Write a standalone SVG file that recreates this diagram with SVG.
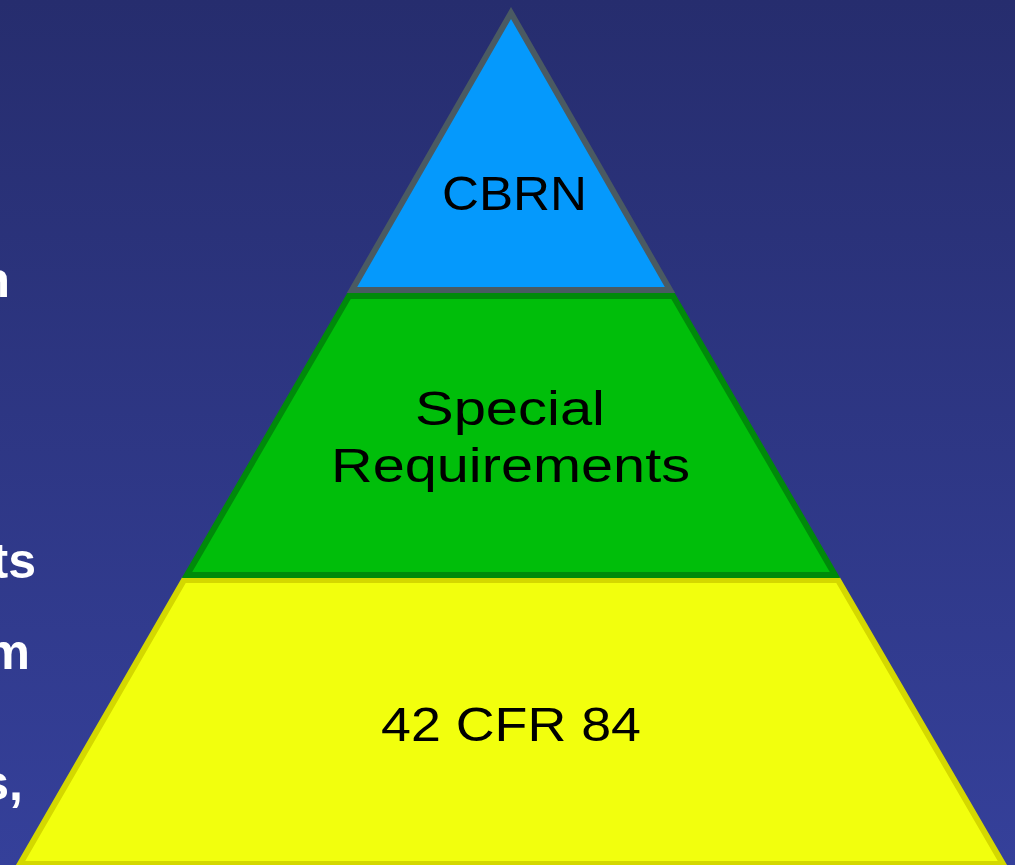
<svg xmlns="http://www.w3.org/2000/svg" width="1015" height="865" viewBox="0 0 1015 865">
<defs>
<linearGradient id="bg" x1="0" y1="0" x2="0" y2="1">
<stop offset="0" stop-color="#262d6e"/>
<stop offset="1" stop-color="#35409a"/>
</linearGradient>
</defs>
<style>
.lbl{font-family:"Liberation Sans",Arial,sans-serif;font-size:48px;fill:#000}
.side{font-family:"Liberation Sans",Arial,sans-serif;font-size:50px;font-weight:bold;fill:#fff}
</style>
<rect width="1015" height="865" fill="url(#bg)"/>
<g id="side-text">
<text class="side" x="10" y="297" text-anchor="end">n</text>
<text class="side" x="36" y="578" text-anchor="end">ts</text>
<text class="side" x="30" y="669" text-anchor="end">m</text>
<text class="side" x="23" y="800" text-anchor="end">s,</text>
</g>
<g id="base">
<polygon points="184,580 838,580 1003,864 20,864" fill="#f2ff0d" stroke="#d4d800" stroke-width="6"/>
<text class="lbl" x="381" y="741" textLength="260" lengthAdjust="spacingAndGlyphs">42 CFR 84</text>
</g>
<g id="middle">
<polygon points="349,296 673,296 835,575 187,575" fill="#00be0a" stroke="#008a0a" stroke-width="6"/>
<text class="lbl" x="415" y="425" textLength="190" lengthAdjust="spacingAndGlyphs">Special</text>
<text class="lbl" x="331" y="482" textLength="359" lengthAdjust="spacingAndGlyphs">Requirements</text>
</g>
<g id="top">
<polygon points="511,13 670,290 352,290" fill="#0599fc" stroke="#4a5a62" stroke-width="6"/>
<text class="lbl" x="442" y="210" textLength="145" lengthAdjust="spacingAndGlyphs">CBRN</text>
</g>
<g id="connectors"/>
</svg>
